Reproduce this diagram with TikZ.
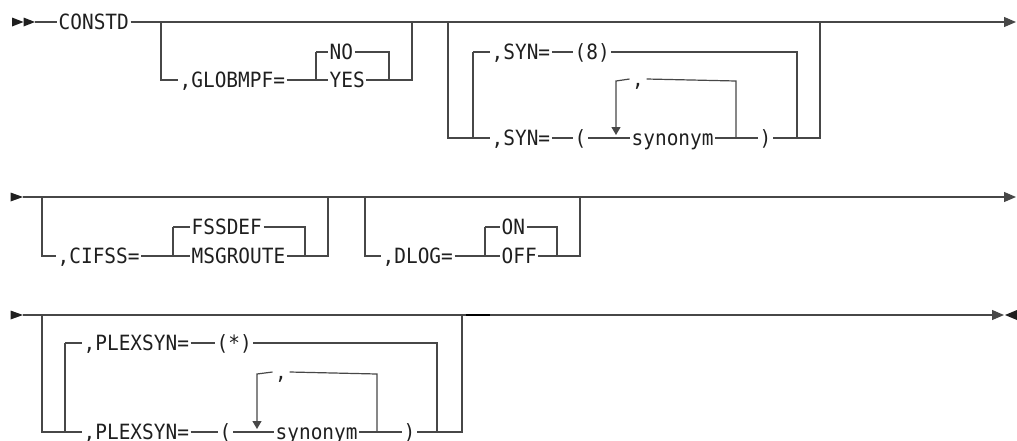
\documentclass[tikz,border=0pt]{standalone}
\usepackage{fontspec}
\newfontfamily\railfont{DejaVu Sans Mono}[FakeStretch=0.925]
\usetikzlibrary{arrows.meta}

\tikzset{
  rail/.style={line width=1.2pt,draw=black!72},
  word/.style={font=\railfont\fontsize{21pt}{23pt}\selectfont,text=black!88,
    inner xsep=1.5pt,inner ysep=0pt,text height=15.3pt,text depth=0pt,anchor=west},
  sep/.style={word,inner xsep=2.5pt,yshift=2pt},
  endtip/.style={-{Triangle[length=12pt,width=10pt]}},
  looptip/.style={-{Triangle[length=8pt,width=9pt]}},
  tipfill/.style={fill=black!88},
}

\begin{document}
\begin{tikzpicture}[x=1pt,y=-1pt]
	\useasboundingbox (0,0) rectangle (1017,440);

	% first line
	\fill[tipfill] (12,17.5) -- (23.5,22) -- (12,26.5) -- cycle;
	\fill[tipfill] (23.5,17.5) -- (35,22) -- (23.5,26.5) -- cycle;
	\coordinate (r1a) at (35,22);
	\coordinate (r1z) at (1016,22);
	\node[word] (constd) at (57,22) {CONSTD};
	\draw[rail] (r1a) -- (constd.west);
	\draw[rail,endtip] (constd.east) -- (r1z);

	\node[word] (globmpf) at (178,80) {,GLOBMPF=};
	\node[word] (no) at (328,52) {NO};
	\node[word] (yes) at (328,80) {YES};
	\coordinate (g1) at (161,22);
	\coordinate (g2) at (316,52);
	\coordinate (g3) at (389,52);
	\coordinate (g4) at (412,22);
	\draw[rail] (g1) |- (globmpf.west);
	\draw[rail] (globmpf.east) -- (yes.west);
	\draw[rail] (g2) -- (no.west);
	\draw[rail] (g2) -- (g2 |- yes.west);
	\draw[rail] (no.east) -- (g3) -- (g3 |- yes.east);
	\draw[rail] (yes.east) -| (g4);

	\node[word] (syna) at (490,52) {,SYN=};
	\node[word] (eight) at (573,52) {(8)};
	\node[word] (synb) at (490,138) {,SYN=};
	\node[word] (lpa) at (573,138) {(};
	\node[word] (syno) at (630,138) {synonym};
	\node[word] (rpa) at (758,138) {)};
	\node[sep] (comma) at (629.5,81) {,};
	\coordinate (y1) at (448,22);
	\coordinate (y2) at (473,52);
	\coordinate (y3) at (797,52);
	\coordinate (y4) at (820,22);
	\coordinate (l1) at (616,81);
	\coordinate (l2) at (736,81);
	\coordinate (l3) at (616,135);
	\draw[rail] (y1) |- (synb.west);
	\draw[rail] (y2) -- (syna.west);
	\draw[rail] (y2) -- (y2 |- synb.west);
	\draw[rail] (syna.east) -- (eight.west);
	\draw[rail] (eight.east) -- (y3) -- (y3 |- synb.east);
	\draw[rail] (synb.east) -- (lpa.west);
	\draw[rail] (lpa.east) -- (syno.west);
	\draw[rail] (syno.east) -- (rpa.west);
	\draw[rail] (rpa.east) -| (y4);
	\draw[rail] (l2 |- syno.east) -- (l2) -- (comma.east);
	\draw[rail,looptip] (comma.west) -- (l1) -- (l3);

	% second line
	\fill[tipfill] (10.5,192.5) -- (23,197) -- (10.5,201.5) -- cycle;
	\coordinate (r2a) at (23,197);
	\coordinate (r2z) at (1016,197);
	\draw[rail,endtip] (r2a) -- (r2z);

	\node[word] (cifss) at (56,256) {,CIFSS=};
	\node[word] (fssdef) at (190,227) {FSSDEF};
	\node[word] (msgroute) at (190,256) {MSGROUTE};
	\coordinate (c1) at (42,197);
	\coordinate (c2) at (173,227);
	\coordinate (c3) at (305,227);
	\coordinate (c4) at (328,197);
	\draw[rail] (c1) |- (cifss.west);
	\draw[rail] (cifss.east) -- (msgroute.west);
	\draw[rail] (c2) -- (fssdef.west);
	\draw[rail] (c2) -- (c2 |- msgroute.west);
	\draw[rail] (fssdef.east) -- (c3) -- (c3 |- msgroute.east);
	\draw[rail] (msgroute.east) -| (c4);

	\node[word] (dlog) at (381,256) {,DLOG=};
	\node[word] (on) at (500,227) {ON};
	\node[word] (off) at (500,256) {OFF};
	\coordinate (d1) at (365,197);
	\coordinate (d2) at (485,227);
	\coordinate (d3) at (557,227);
	\coordinate (d4) at (580,197);
	\draw[rail] (d1) |- (dlog.west);
	\draw[rail] (dlog.east) -- (off.west);
	\draw[rail] (d2) -- (on.west);
	\draw[rail] (d2) -- (d2 |- off.west);
	\draw[rail] (on.east) -- (d3) -- (d3 |- off.east);
	\draw[rail] (off.east) -| (d4);

	% third line
	\fill[tipfill] (10.5,310.5) -- (23,315) -- (10.5,319.5) -- cycle;
	\coordinate (r3a) at (23,315);
	\coordinate (r3m) at (466,315);
	\coordinate (r3n) at (490,315);
	\coordinate (r3z) at (1004,315);
	\draw[rail] (r3a) -- (r3m);
	\draw[rail,draw=black] (r3m) -- (r3n);
	\draw[rail,endtip] (r3n) -- (r3z);
	\fill[tipfill] (1017,310) -- (1005,315) -- (1017,320) -- cycle;

	\node[word] (plxa) at (82,343) {,PLEXSYN=};
	\node[word] (star) at (215,343) {(*)};
	\node[word] (plxb) at (82,432) {,PLEXSYN=};
	\node[word] (plpa) at (218,432) {(};
	\node[word] (plsyno) at (274,432) {synonym};
	\node[word] (plrpa) at (402,432) {)};
	\node[sep] (plcomma) at (272.5,374) {,};
	\coordinate (p1) at (42,315);
	\coordinate (p2) at (65,343);
	\coordinate (p3) at (437,343);
	\coordinate (p4) at (462,315);
	\coordinate (q1) at (257,374);
	\coordinate (q2) at (377,374);
	\coordinate (q3) at (257,429);
	\draw[rail] (p1) |- (plxb.west);
	\draw[rail] (p2) -- (plxa.west);
	\draw[rail] (p2) -- (p2 |- plxb.west);
	\draw[rail] (plxa.east) -- (star.west);
	\draw[rail] (star.east) -- (p3) -- (p3 |- plxb.east);
	\draw[rail] (plxb.east) -- (plpa.west);
	\draw[rail] (plpa.east) -- (plsyno.west);
	\draw[rail] (plsyno.east) -- (plrpa.west);
	\draw[rail] (plrpa.east) -| (p4);
	\draw[rail] (q2 |- plsyno.east) -- (q2) -- (plcomma.east);
	\draw[rail,looptip] (plcomma.west) -- (q1) -- (q3);
\end{tikzpicture}
\end{document}
